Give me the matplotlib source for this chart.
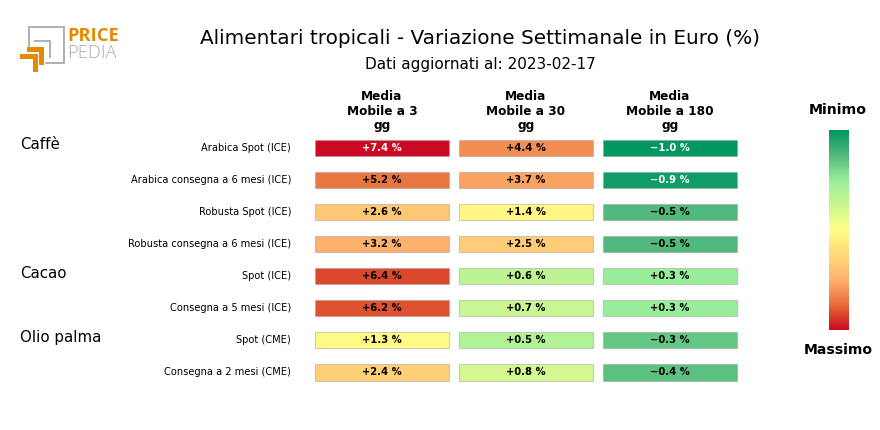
import numpy as np
import matplotlib
matplotlib.use("Agg")
import matplotlib.pyplot as plt
from matplotlib.colors import LinearSegmentedColormap
from matplotlib.patches import Rectangle

W, H = 880, 430
title = "Alimentari tropicali - Variazione Settimanale in Euro (%)"
subtitle = "Dati aggiornati al: 2023-02-17"
columns = ["Media\nMobile a 3\ngg", "Media\nMobile a 30\ngg", "Media\nMobile a 180\ngg"]
rows = ["Arabica Spot (ICE)", "Arabica consegna a 6 mesi (ICE)", "Robusta Spot (ICE)",
        "Robusta consegna a 6 mesi (ICE)", "Spot (ICE)", "Consegna a 5 mesi (ICE)",
        "Spot (CME)", "Consegna a 2 mesi (CME)"]
groups = {"Caffè": 0, "Cacao": 4, "Olio palma": 6}
ma3 = [7.4, 5.2, 2.6, 3.2, 6.4, 6.2, 1.3, 2.4]
ma30 = [4.4, 3.7, 1.4, 2.5, 0.6, 0.7, 0.5, 0.8]
ma180 = [-1.0, -0.9, -0.5, -0.5, 0.3, 0.3, -0.3, -0.4]
series = [ma3, ma30, ma180]

cmap = LinearSegmentedColormap.from_list("pp", [(0, "#009760"), (0.125, "#52B97C"), (0.25, "#98EE99"),
                                                (0.5, "#FFFF88"), (0.75, "#FFB26E"), (0.86, "#EA7542"),
                                                (0.92, "#DB4A2D"), (1, "#CC0A24")])
val_stops = [-1.0, -0.5, 0.3, 1.15, 3.2, 6.4, 7.4]
pos_stops = [0, 0.125, 0.25, 0.5, 0.75, 0.92, 1]

plt.rcParams["font.family"] = "DejaVu Sans"
fig = plt.figure(figsize=(W / 100, H / 100), dpi=100)

def fx(p): return p / W
def fy(p): return 1 - p / H
def axes_px(x0, y0, x1, y1):
    return fig.add_axes([fx(x0), fy(y1), (x1 - x0) / W, (y1 - y0) / H])

fig.text(fx(480), fy(38), title, ha="center", va="center", fontsize=14.4)
fig.text(fx(480), fy(64.5), subtitle, ha="center", va="center", fontsize=11)

# table
ax = axes_px(315, 140, 738, 380.5)
ax.set_xlim(0, 2.9375)
ax.set_ylim(7.25, -0.25)
ax.axis("off")
for c, vals in enumerate(series):
    for r, v in enumerate(vals):
        col = cmap(np.interp(v, val_stops, pos_stops))
        ax.barh(r, 0.93, left=c, height=0.5, align="center", color=col,
                edgecolor=(0.6, 0.6, 0.6, 0.45), linewidth=0.8, clip_on=False)
        txtcol = "white" if (v >= 6.8 or v <= -0.8) else "black"
        ax.text(c + 0.465, r - 0.01, f"{v:+.1f} %".replace("-", "\u2212"), ha="center", va="center",
                fontsize=7.2, fontweight="bold", color=txtcol)
    fig.text(fx(382 + 144 * c), fy(111.5), columns[c], ha="center", va="center",
             fontsize=8.7, fontweight="bold", linespacing=1.15)

for r, name in enumerate(rows):
    y = 148 + 32.07 * r
    fig.text(fx(291), fy(y), name, ha="right", va="center", fontsize=7.1)
for name, r in groups.items():
    fig.text(fx(20), fy(145 + 32.07 * r + (0.5 if r else 0)), name, ha="left", va="center", fontsize=10.8)

# colour scale
cax = axes_px(829, 130, 849, 330)
grad = np.linspace(0, 1, 256).reshape(-1, 1)
cax.imshow(grad, aspect="auto", cmap=cmap, interpolation="bilinear")
cax.axis("off")
fig.text(fx(838), fy(110.5), "Minimo", ha="center", va="center", fontsize=10.2, fontweight="bold")
fig.text(fx(838), fy(350.5), "Massimo", ha="center", va="center", fontsize=10.1, fontweight="bold")

# logo
lg = axes_px(0, 0, W, H)
lg.set_xlim(0, W)
lg.set_ylim(H, 0)
lg.axis("off")
lg.patch.set_alpha(0)
gray = "#aaaaaa"
orange = "#E58A00"
lg.plot([46, 64, 64, 28.5, 28.5], [62.5, 62.5, 26.5, 26.5, 47], color=gray, lw=1.3, solid_joinstyle="miter")
lg.plot([35, 50, 50], [41, 41, 57], color=gray, lw=1.3, solid_joinstyle="miter")
lg.add_patch(Rectangle((26.5, 47), 17.5, 5, color=orange, lw=0))
lg.add_patch(Rectangle((39, 47), 5, 18, color=orange, lw=0))
lg.add_patch(Rectangle((20, 54), 17.5, 4.5, color=orange, lw=0))
lg.add_patch(Rectangle((33, 54), 4.5, 17.5, color=orange, lw=0))
lg.text(67.5, 36, "PRICE", ha="left", va="center", fontsize=13.2, fontweight="bold", color=orange, family="Open Sans")
lg.text(67.5, 53.5, "PEDIA", ha="left", va="center", fontsize=13.2, color="#aaaaaa", family="Open Sans", fontweight="light")

fig.savefig("out.png", dpi=100)
